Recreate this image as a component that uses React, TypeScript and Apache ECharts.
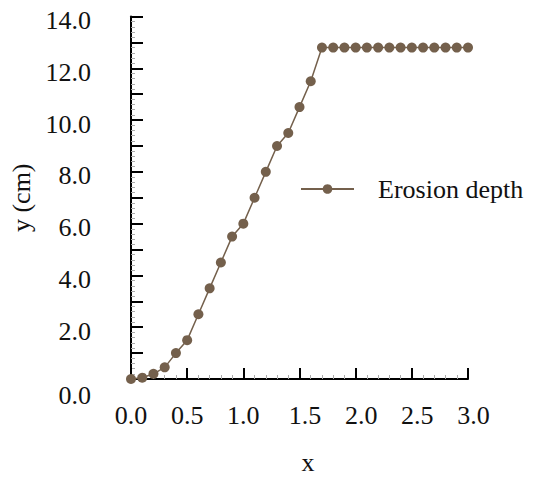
import React, { useEffect, useRef } from "react";
import * as echarts from "echarts";

const xValues = [0.0, 0.1, 0.2, 0.3, 0.4, 0.5, 0.6, 0.7, 0.8, 0.9, 1.0, 1.1, 1.2, 1.3, 1.4, 1.5, 1.6, 1.7, 1.8, 1.9, 2.0, 2.1, 2.2, 2.3, 2.4, 2.5, 2.6, 2.7, 2.8, 2.9, 3.0];
const erosionDepth = [0.0, 0.05, 0.2, 0.45, 1.0, 1.5, 2.5, 3.5, 4.5, 5.5, 6.0, 7.0, 8.0, 9.0, 9.5, 10.5, 11.5, 12.8, 12.8, 12.8, 12.8, 12.8, 12.8, 12.8, 12.8, 12.8, 12.8, 12.8, 12.8, 12.8, 12.8];
const seriesName = "Erosion depth";
const xAxisName = "x";
const yAxisName = "y (cm)";

const FONT = "'Liberation Serif', 'Times New Roman', serif";
const FS = 26;
const BROWN = "#74604c";

export default function App() {
  const ref = useRef<HTMLDivElement>(null);
  useEffect(() => {
    if (!ref.current) return;
    document.body.style.margin = "0";
    const chart = echarts.init(ref.current, null, { renderer: "svg" });
    const data = xValues.map((x, i) => [x, erosionDepth[i]]);
    chart.setOption({
      animation: false,
      backgroundColor: "#ffffff",
      grid: { left: 129, right: 68, top: 12, bottom: 101, containLabel: false },
      legend: {
        show: true,
        left: 300,
        top: 176,
        padding: 0,
        itemWidth: 53,
        itemHeight: 12,
        data: [seriesName],
        formatter: (n: string) => `{s|}{t|${n}}`,
        textStyle: {
          fontFamily: FONT,
          fontSize: FS,
          color: "#111",
          rich: {
            s: { width: 19 },
            t: { fontFamily: FONT, fontSize: FS, color: "#111" },
          },
        },
      },
      xAxis: {
        type: "value",
        min: 0,
        max: 3,
        interval: 0.5,
        name: `{s|}{n|${xAxisName}}`,
        nameLocation: "middle",
        nameGap: 70,
        nameTextStyle: {
          fontFamily: FONT,
          fontSize: FS,
          color: "#111",
          rich: {
            s: { width: 17 },
            n: { fontFamily: FONT, fontSize: FS, color: "#111" },
          },
        },
        axisLine: { show: true, onZero: false, lineStyle: { color: "#000", width: 2 } },
        axisTick: { show: true, inside: true, length: 11, lineStyle: { color: "#000", width: 2 } },
        minorTick: { show: true, splitNumber: 5, length: 4, lineStyle: { color: "#aaa", width: 1 } },
        splitLine: { show: false },
        minorSplitLine: { show: false },
        axisLabel: {
          margin: 23,
          fontFamily: FONT,
          fontSize: FS,
          color: "#111",
          formatter: (v: number) => {
            const s = v.toFixed(1);
            return v >= 1.5 ? `{s|}{v|${s}}` : `{v|${s}}`;
          },
          rich: {
            s: { width: 11 },
            v: { fontFamily: FONT, fontSize: FS, color: "#111" },
          },
        },
      },
      yAxis: {
        type: "value",
        min: 0,
        max: 14,
        interval: 1,
        name: yAxisName,
        nameLocation: "middle",
        nameGap: 97,
        nameTextStyle: { fontFamily: FONT, fontSize: FS, color: "#111" },
        axisLine: { show: true, onZero: false, lineStyle: { color: "#000", width: 2 } },
        axisTick: { show: true, inside: true, length: 12, lineStyle: { color: "#000", width: 2 } },
        minorTick: { show: true, splitNumber: 5, length: 4, lineStyle: { color: "#aaa", width: 1 } },
        splitLine: { show: false },
        minorSplitLine: { show: false },
        axisLabel: {
          margin: 40,
          fontFamily: FONT,
          fontSize: FS,
          color: "#111",
          formatter: (v: number) => {
            if (Math.round(v) % 2 !== 0) return "";
            const s = v.toFixed(1);
            if (v === 0) return `{g| }\n{v|${s}}`;
            return `{h| }\n{v|${s}}`;
          },
          rich: {
            g: { fontSize: 4, lineHeight: 32 },
            h: { fontSize: 4, lineHeight: 8 },
            v: { fontFamily: FONT, fontSize: FS, lineHeight: 29, color: "#111" },
          },
        },
      },
      series: [
        {
          name: seriesName,
          type: "line",
          data,
          symbol: "circle",
          symbolSize: 10,
          showSymbol: true,
          clip: false,
          color: BROWN,
          lineStyle: { color: BROWN, width: 1.5 },
          itemStyle: { color: BROWN },
        },
      ],
    });
    return () => chart.dispose();
  }, []);
  return <div ref={ref} style={{ width: 536, height: 480 }} />;
}
